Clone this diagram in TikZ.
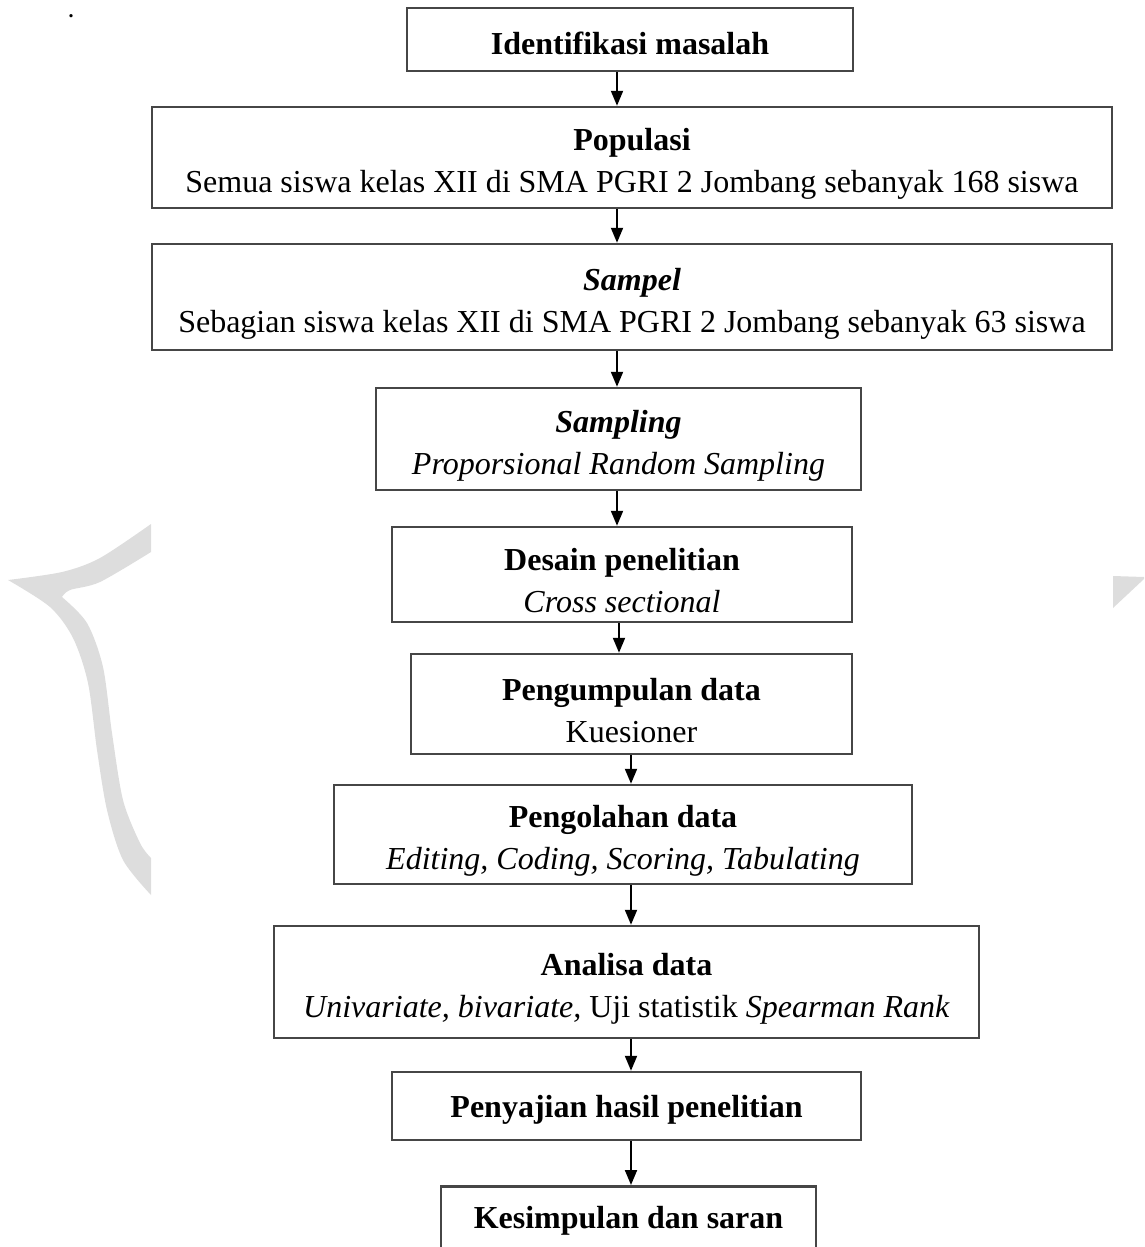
\documentclass[tikz,border=0pt]{standalone}
\usepackage{fontspec}
\setmainfont{Liberation Serif}
\usepackage{tikz}
\usetikzlibrary{arrows.meta}
\definecolor{wmgray}{RGB}{221,221,221}
\definecolor{edge}{RGB}{70,70,70}

\begin{document}
\begin{tikzpicture}[x=1pt, y=-1pt,
  box/.style={draw=edge, line width=2.5pt, align=center, inner sep=0pt,
    font=\fontsize{32}{42}\selectfont},
  onebox/.style={box, execute at begin node={\rule{0pt}{30pt}}},
  twobox/.style={box, execute at begin node={\rule{0pt}{77pt}}},
  arr/.style={line width=2pt, -{Triangle[length=15pt,width=12pt]}}]
\useasboundingbox (0,0) rectangle (1144,1247);
\clip (0,0) rectangle (1144,1247);

% watermark pieces
\fill[wmgray] plot[smooth] coordinates {(151,524) (100,558) (62,572) (8,580)}
  -- plot[smooth] coordinates {(8,580) (50,607) (73,638) (88,683) (97,750) (107,810) (123,860) (151,895)}
  -- (151,858)
  -- plot[smooth] coordinates {(151,858) (140,843) (123,800) (112,733) (103,667) (87,623) (62,597)}
  -- plot[smooth] coordinates {(62,597) (70,590) (100,582) (151,552)}
  -- cycle;
\fill[wmgray] (1113,576) -- (1144,577) -- (1144,579) -- (1113,608) -- cycle;

\node[font=\fontsize{20}{24}\selectfont\bfseries, anchor=base, inner sep=0pt] (dot) at (71,18) {.};

\node[onebox, minimum width=446pt, minimum height=63pt] (idf) at (630,39.5) {\textbf{Identifikasi masalah}};
\node[twobox, minimum width=960pt, minimum height=101pt] (pop) at (632,157.5) {\textbf{Populasi}\\Semua siswa kelas XII di SMA PGRI 2 Jombang sebanyak 168 siswa};
\node[twobox, minimum width=960pt, minimum height=106pt] (smp) at (632,297) {\textbf{\textit{Sampel}}\\Sebagian siswa kelas XII di SMA PGRI 2 Jombang sebanyak 63 siswa};
\node[twobox, minimum width=485pt, minimum height=102pt] (tek) at (618.5,439) {\textbf{\textit{Sampling}}\\\textit{Proporsional Random Sampling}};
\node[twobox, minimum width=460pt, minimum height=95pt] (dsn) at (622,574.5) {\textbf{Desain penelitian}\\\textit{Cross sectional}};
\node[twobox, minimum width=441pt, minimum height=100pt] (kumpul) at (631.5,704) {\textbf{Pengumpulan data}\\Kuesioner};
\node[twobox, minimum width=578pt, minimum height=99pt] (olah) at (623,834.5) {\textbf{Pengolahan data}\\\textit{Editing, Coding, Scoring, Tabulating}};
\node[twobox, minimum width=705pt, minimum height=112pt] (anl) at (626.5,982) {\textbf{Analisa data}\\\textit{Univariate, bivariate,} Uji statistik \textit{Spearman Rank}};
\node[onebox, minimum width=469pt, minimum height=68pt] (saji) at (626.5,1106) {\textbf{Penyajian hasil penelitian}};
\node[onebox, minimum width=375pt, minimum height=62pt, anchor=north] (simp) at (628.5,1185) {\textbf{Kesimpulan dan saran}};

\coordinate (c1) at (617,0);
\coordinate (c2) at (619,0);
\coordinate (c3) at (631,0);

\draw[arr] (idf.south -| c1) -- (pop.north -| c1);
\draw[arr] (pop.south -| c1) -- (smp.north -| c1);
\draw[arr] (smp.south -| c1) -- (tek.north -| c1);
\draw[arr] (tek.south -| c1) -- (dsn.north -| c1);
\draw[arr] (dsn.south -| c2) -- (kumpul.north -| c2);
\draw[arr] (kumpul.south -| c3) -- (olah.north -| c3);
\draw[arr] (olah.south -| c3) -- (anl.north -| c3);
\draw[arr] (anl.south -| c3) -- (saji.north -| c3);
\draw[arr] (saji.south -| c3) -- (simp.north -| c3);
\end{tikzpicture}
\end{document}
